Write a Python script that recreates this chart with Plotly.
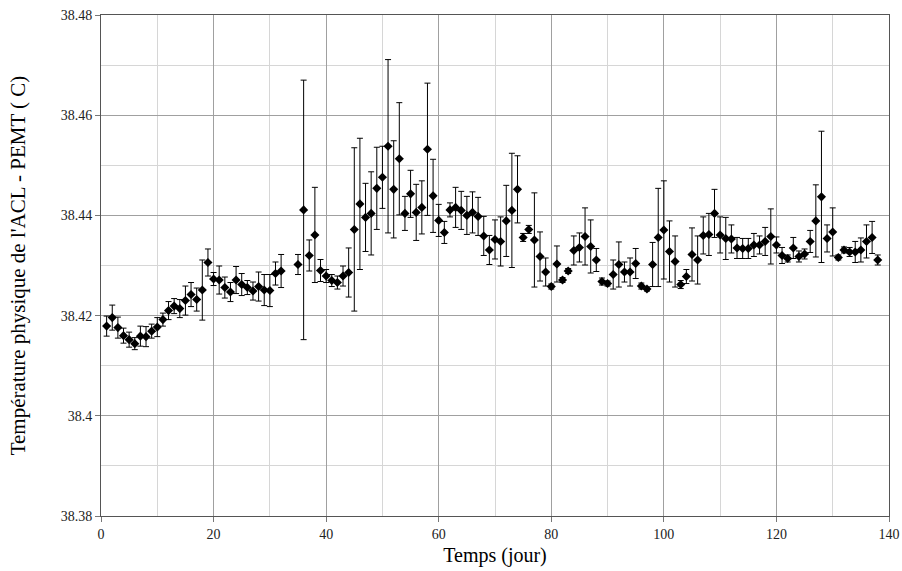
import plotly.graph_objects as go

# --- Données ---
jours = [1, 2, 3, 4, 5, 6, 7, 8, 9, 10, 11, 12, 13, 14, 15, 16, 17, 18, 19, 20,
         21, 22, 23, 24, 25, 26, 27, 28, 29, 30, 31, 32, 35, 36, 37, 38, 39, 40,
         41, 42, 43, 44, 45, 46, 47, 48, 49, 50, 51, 52, 53, 54, 55, 56, 57, 58,
         59, 60, 61, 62, 63, 64, 65, 66, 67, 68, 69, 70, 71, 72, 73, 74, 75, 76,
         77, 78, 79, 80, 81, 82, 83, 84, 85, 86, 87, 88, 89, 90, 91, 92, 93, 94,
         95, 96, 97, 98, 99, 100, 101, 102, 103, 104, 105, 106, 107, 108, 109,
         110, 111, 112, 113, 114, 115, 116, 117, 118, 119, 120, 121, 122, 123,
         124, 125, 126, 127, 128, 129, 130, 131, 132, 133, 134, 135, 136, 137, 138]

temperature = [
    38.4179, 38.4196, 38.4176, 38.4160, 38.4152, 38.4144, 38.4159, 38.4158, 38.4169, 38.4177,
    38.4192, 38.4210, 38.4219, 38.4214, 38.4230, 38.4242, 38.4232, 38.4251, 38.4306, 38.4273,
    38.4271, 38.4256, 38.4247, 38.4271, 38.4262, 38.4256, 38.4249, 38.4258, 38.4251, 38.4250,
    38.4284, 38.4289, 38.4302, 38.4411, 38.4320, 38.4361, 38.4290, 38.4279,
    38.4270, 38.4266, 38.4279, 38.4286, 38.4372, 38.4423, 38.4396, 38.4404, 38.4454, 38.4476,
    38.4538, 38.4452, 38.4513, 38.4404, 38.4443, 38.4406, 38.4416, 38.4532, 38.4439, 38.4390,
    38.4366, 38.4411, 38.4416, 38.4410, 38.4400, 38.4406, 38.4398, 38.4359, 38.4331, 38.4352,
    38.4348, 38.4389, 38.4410, 38.4452, 38.4356, 38.4372, 38.4351, 38.4318, 38.4287, 38.4258,
    38.4303, 38.4271, 38.4289, 38.4330, 38.4336, 38.4358, 38.4338, 38.4311, 38.4268, 38.4264,
    38.4282, 38.4302, 38.4287, 38.4287, 38.4304, 38.4259, 38.4253, 38.4302, 38.4356, 38.4371,
    38.4328, 38.4308, 38.4262, 38.4278, 38.4322, 38.4311, 38.4360, 38.4362, 38.4404, 38.4361,
    38.4354, 38.4353, 38.4335, 38.4334, 38.4334, 38.4341, 38.4341, 38.4348, 38.4358, 38.4341,
    38.4320, 38.4314, 38.4335, 38.4318, 38.4323, 38.4348, 38.4389, 38.4437, 38.4354, 38.4367,
    38.4316, 38.4331, 38.4327, 38.4327, 38.4331, 38.4348, 38.4356, 38.4311]

erreur = [
    0.0020, 0.0025, 0.0021, 0.0015, 0.0015, 0.0012, 0.0020, 0.0020, 0.0014, 0.0019,
    0.0013, 0.0018, 0.0015, 0.0018, 0.0029, 0.0024, 0.0023, 0.0060, 0.0027, 0.0013,
    0.0028, 0.0021, 0.0019, 0.0027, 0.0022, 0.0014, 0.0018, 0.0029, 0.0031, 0.0032,
    0.0023, 0.0033, 0.0020, 0.0259, 0.0031, 0.0095, 0.0022, 0.0013,
    0.0012, 0.0013, 0.0020, 0.0049, 0.0163, 0.0131, 0.0068, 0.0083, 0.0082, 0.0062,
    0.0173, 0.0097, 0.0112, 0.0034, 0.0047, 0.0056, 0.0053, 0.0132, 0.0073, 0.0032,
    0.0022, 0.0014, 0.0040, 0.0038, 0.0038, 0.0041, 0.0038, 0.0039, 0.0029, 0.0039,
    0.0049, 0.0071, 0.0114, 0.0067, 0.0008, 0.0008, 0.0094, 0.0049, 0.0028, 0.0005,
    0.0036, 0.0005, 0.0005, 0.0029, 0.0029, 0.0057, 0.0053, 0.0023, 0.0007, 0.0005,
    0.0029, 0.0045, 0.0020, 0.0028, 0.0030, 0.0006, 0.0004, 0.0044, 0.0098, 0.0098,
    0.0061, 0.0051, 0.0008, 0.0014, 0.0053, 0.0048, 0.0037, 0.0042, 0.0048, 0.0036,
    0.0042, 0.0028, 0.0021, 0.0020, 0.0020, 0.0023, 0.0018, 0.0028, 0.0055, 0.0016,
    0.0016, 0.0007, 0.0021, 0.0011, 0.0010, 0.0022, 0.0072, 0.0131, 0.0027, 0.0048,
    0.0005, 0.0006, 0.0009, 0.0021, 0.0024, 0.0033, 0.0032, 0.0010]

y_ticks = [38.38, 38.40, 38.42, 38.44, 38.46, 38.48]
y_labels = ["38.38", "38.4", "38.42", "38.44", "38.46", "38.48"]
x_ticks = [0, 20, 40, 60, 80, 100, 120, 140]

police = "Liberation Serif"

# --- Figure ---
fig = go.Figure()
fig.add_trace(go.Scatter(
    x=jours, y=temperature,
    mode="markers",
    marker=dict(symbol="diamond", size=7, color="black"),
    error_y=dict(type="data", array=erreur, visible=True,
                 color="black", thickness=1, width=3),
    showlegend=False,
))

axe_commun = dict(
    automargin=False,
    showline=True, linecolor="#555555", linewidth=1, mirror=True,
    ticks="outside", ticklen=5, tickcolor="#777777",
    showgrid=True, gridcolor="#a0a0a0", gridwidth=1,
    zeroline=False,
    tickfont=dict(family=police, size=14, color="#222222"),
)

fig.update_layout(
    width=902, height=571,
    margin=dict(l=101, r=13, t=15, b=55),
    plot_bgcolor="white", paper_bgcolor="white",
    font=dict(family=police, color="black", size=14),
    xaxis=dict(
        range=[0, 140], tickvals=x_ticks,
        minor=dict(dtick=10, showgrid=True, gridcolor="#d6d6d6", gridwidth=1),
        title=dict(text="Temps (jour)", font=dict(family=police, size=20), standoff=7),
        **axe_commun,
    ),
    yaxis=dict(
        range=[38.38, 38.48], tickvals=y_ticks, ticktext=y_labels,
        minor=dict(dtick=0.01, tick0=38.38, showgrid=True, gridcolor="#d6d6d6", gridwidth=1),
        title=dict(text="Température physique de l'ACL - PEMT ( C)",
                   font=dict(family=police, size=21), standoff=29),
        **axe_commun,
    ),
)

fig.write_html("out.html",
               config={"displayModeBar": False, "responsive": False},
               post_script="document.body.style.margin='0';document.body.style.overflow='hidden';")
